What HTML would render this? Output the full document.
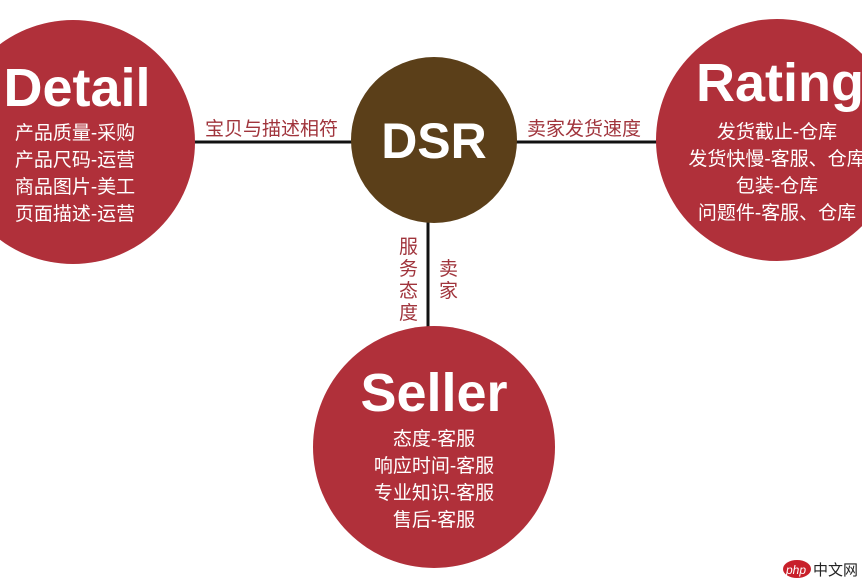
<!DOCTYPE html>
<html><head><meta charset="utf-8"><style>
html,body{margin:0;padding:0;background:#fff;}
svg{display:block;}
text{font-family:"Liberation Sans","Noto Sans CJK SC",sans-serif;}
</style></head><body>
<svg width="862" height="580" viewBox="0 0 862 580" xmlns="http://www.w3.org/2000/svg">
<line x1="190" y1="142" x2="360" y2="142" stroke="#111" stroke-width="3"/>
<line x1="510" y1="142" x2="665" y2="142" stroke="#111" stroke-width="3"/>
<line x1="428" y1="215" x2="428" y2="330" stroke="#111" stroke-width="3"/>
<circle cx="73" cy="142" r="122" fill="#b0303a"/>
<circle cx="434" cy="140" r="83" fill="#5b3f19"/>
<circle cx="777" cy="140" r="121" fill="#b0303a"/>
<circle cx="434" cy="447" r="121" fill="#b0303a"/>
<g fill="#a0343c" font-size="19">
<text x="205" y="135">宝贝与描述相符</text>
<text x="527" y="135">卖家发货速度</text>
<text x="399" y="253">服</text><text x="399" y="275">务</text><text x="399" y="297">态</text><text x="399" y="319">度</text>
<text x="439" y="275">卖</text><text x="439" y="297">家</text>
</g>
<g fill="#fff" font-weight="bold" text-anchor="middle">
<text x="77" y="106" font-size="54">Detail</text>
<text x="434" y="158" font-size="50">DSR</text>
<text x="780" y="101" font-size="54">Rating</text>
<text x="434" y="411" font-size="54">Seller</text>
</g>
<g fill="#fff" font-size="19" text-anchor="middle">
<text x="75" y="139">产品质量-采购</text>
<text x="75" y="166">产品尺码-运营</text>
<text x="75" y="193">商品图片-美工</text>
<text x="75" y="220">页面描述-运营</text>
<text x="777" y="138">发货截止-仓库</text>
<text x="777" y="165">发货快慢-客服、仓库</text>
<text x="777" y="192">包装-仓库</text>
<text x="777" y="219">问题件-客服、仓库</text>
<text x="434" y="445">态度-客服</text>
<text x="434" y="472">响应时间-客服</text>
<text x="434" y="499">专业知识-客服</text>
<text x="434" y="526">售后-客服</text>
</g>
<ellipse cx="797" cy="569" rx="14" ry="9" fill="#c8202a"/>
<text x="786" y="574" font-size="12" fill="#fff" font-style="italic">php</text>
<text x="813" y="575" font-size="15" fill="#222">中文网</text>
</svg>
</body></html>
